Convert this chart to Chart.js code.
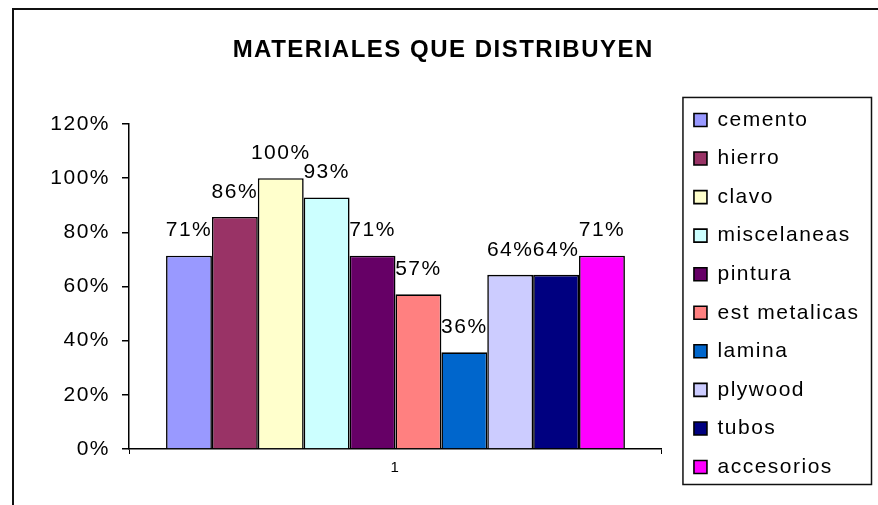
<!DOCTYPE html>
<html>
<head>
<meta charset="utf-8">
<script src="https://cdn.jsdelivr.net/npm/chart.js@4.4.1/dist/chart.umd.min.js"></script>
<style>
  html, body { margin: 0; padding: 0; background: #fff; }
  canvas { display: block; }
</style>
</head>
<body>
<canvas id="chart" width="878" height="505"></canvas>
<script>
// data
const categories = ['1'];
const materials = ['cemento', 'hierro', 'clavo', 'miscelaneas', 'pintura',
                   'est metalicas', 'lamina', 'plywood', 'tubos', 'accesorios'];
const shares = [71.4, 85.7, 100, 92.9, 71.4, 57.1, 35.7, 64.3, 64.3, 71.4];
const barColors = ['#9999FF', '#993366', '#FFFFCC', '#CCFFFF', '#660066',
                   '#FF8080', '#0066CC', '#CCCCFF', '#000080', '#FF00FF'];
const yMin = 0, yMax = 120, yStep = 20;

const FONT = "'Liberation Sans', Arial, sans-serif";

// excel-ish wide lettering
var spacing = {
    id: 'spacing',
    beforeUpdate: function(chart) { chart.ctx.letterSpacing = '1.5px'; },
    beforeDraw: function(chart) { chart.ctx.letterSpacing = '1.5px'; }
};

// outer frame + box around legend
var frames = {
    id: 'frames',
    beforeDraw: function(chart) {
        var ctx = chart.ctx;
        ctx.save();
        ctx.strokeStyle = '#111';
        ctx.lineWidth = 2;
        ctx.strokeRect(13, 9, 1000, 1000);
        ctx.restore();
    },
    afterDraw: function(chart) {
        var hb = chart.legend.legendHitBoxes;
        if (!hb || !hb.length) return;
        var l = hb[0].left - 11, t = hb[0].top - 12;
        var r = 0;
        hb.forEach(function(h) { r = Math.max(r, h.left + h.width); });
        var last = hb[hb.length - 1];
        var b = last.top + last.height + 7;
        var ctx = chart.ctx;
        ctx.save();
        ctx.strokeStyle = '#111';
        ctx.lineWidth = 1.5;
        ctx.strokeRect(l, t, r + 12 - l, b - t);
        ctx.restore();
    }
};

// value labels above bars
var valueLabels = {
    id: 'valueLabels',
    afterDatasetsDraw: function(chart) {
        var ctx = chart.ctx;
        ctx.save();
        ctx.font = '21px ' + FONT;
        ctx.fillStyle = '#000';
        ctx.textAlign = 'center';
        ctx.textBaseline = 'middle';
        chart.data.datasets.forEach(function(ds, i) {
            var meta = chart.getDatasetMeta(i);
            meta.data.forEach(function(bar, j) {
                ctx.fillText(Math.round(ds.data[j]) + '%', bar.x, bar.y - 25);
            });
        });
        ctx.restore();
    }
};

var datasets = materials.map(function(name, i) {
    return {
        label: name,
        data: [shares[i]],
        backgroundColor: barColors[i],
        borderColor: '#000',
        borderWidth: 1.6,
        yAxisID: 'y'
    };
});

new Chart(document.getElementById('chart'), {
    type: 'bar',
    data: { labels: categories, datasets: datasets },
    options: {
        responsive: false,
        animation: false,
        events: [],
        layout: { padding: { left: 17, right: 8.5, top: 0, bottom: 0 } },
        datasets: { bar: { barPercentage: 1, categoryPercentage: 0.861 } },
        plugins: {
            title: {
                display: true,
                text: 'MATERIALES QUE DISTRIBUYEN',
                color: '#000',
                font: { family: FONT, size: 24, weight: 'bold' },
                padding: { top: 36.1, bottom: 59.1 }
            },
            legend: {
                display: true,
                position: 'right',
                align: 'start',
                title: { display: true, text: ' ', font: { size: 12 }, padding: { top: 77.5, bottom: 0 } },
                labels: {
                    color: '#000',
                    font: { family: FONT, size: 21 },
                    boxWidth: 13,
                    boxHeight: 13,
                    padding: 17.56
                }
            },
            tooltip: { enabled: false }
        },
        scales: {
            x: {
                grid: { display: true, drawOnChartArea: false, drawTicks: true, tickLength: 5, color: '#000', offset: true },
                border: { display: true, color: '#000', width: 1.5 },
                ticks: { color: '#000', font: { family: FONT, size: 15 }, padding: 5 },
                afterFit: function(scale) { scale.height = 56; }
            },
            y: {
                min: yMin,
                max: yMax,
                grid: { display: true, drawOnChartArea: false, drawTicks: true, tickLength: 7, color: '#000', lineWidth: 1.5 },
                border: { display: true, color: '#000', width: 1.5 },
                ticks: {
                    stepSize: yStep,
                    color: '#000',
                    padding: 12,
                    font: { family: FONT, size: 21 },
                    callback: function(v) { return v + '%'; }
                },
                afterFit: function(scale) { scale.width = 112; }
            },
            gap: {
                type: 'linear',
                position: 'right',
                display: false,
                afterFit: function(scale) { scale.width = 14.44; }
            }
        }
    },
    plugins: [spacing, frames, valueLabels]
});
</script>
</body>
</html>
